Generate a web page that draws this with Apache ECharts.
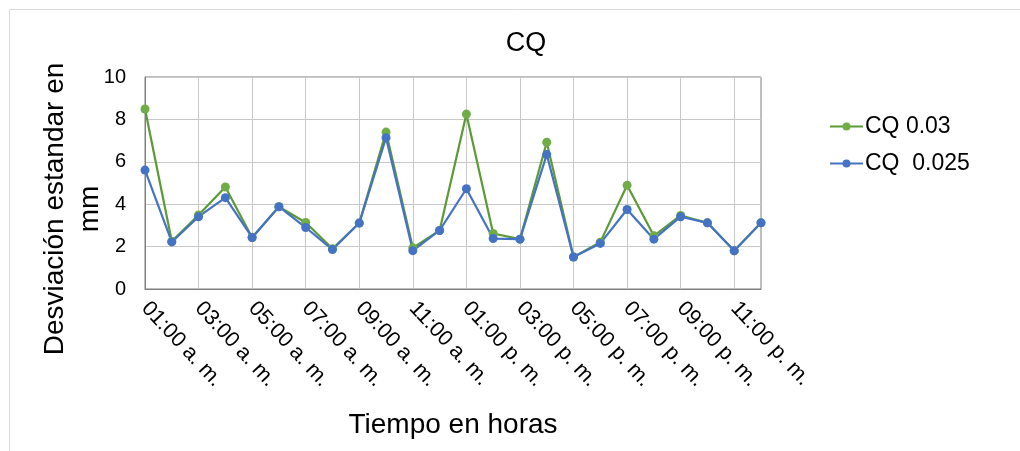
<!DOCTYPE html>
<html>
<head>
<meta charset="utf-8">
<script src="https://cdn.jsdelivr.net/npm/echarts@6/dist/echarts.min.js"></script>
<style>
  html, body { margin: 0; padding: 0; background: #fff; }
  #chart { width: 1020px; height: 451px; }
</style>
</head>
<body>
<div id="chart"></div>
<script>
// horas del dia (24 puntos, se rotula uno de cada dos)
const horas = [
  '01:00 a. m.', '02:00 a. m.', '03:00 a. m.', '04:00 a. m.', '05:00 a. m.', '06:00 a. m.',
  '07:00 a. m.', '08:00 a. m.', '09:00 a. m.', '10:00 a. m.', '11:00 a. m.', '12:00 p. m.',
  '01:00 p. m.', '02:00 p. m.', '03:00 p. m.', '04:00 p. m.', '05:00 p. m.', '06:00 p. m.',
  '07:00 p. m.', '08:00 p. m.', '09:00 p. m.', '10:00 p. m.', '11:00 p. m.', '12:00 a. m.'
]

// desviacion estandar (mm)
const cq003 = [8.49, 2.25, 3.49, 4.81, 2.43, 3.88, 3.14, 1.9, 3.11, 7.4, 1.94, 2.76,
               8.25, 2.62, 2.35, 6.92, 1.51, 2.21, 4.89, 2.51, 3.47, 3.12, 1.8, 3.12]
const cq0025 = [5.61, 2.22, 3.41, 4.31, 2.43, 3.88, 2.9, 1.86, 3.11, 7.14, 1.81, 2.76,
                4.73, 2.38, 2.35, 6.34, 1.51, 2.15, 3.75, 2.35, 3.41, 3.12, 1.8, 3.12]

const yTicks = { min: 0, max: 10, interval: 2 }

const font = 'Liberation Sans, Arial, sans-serif'

let myChart = echarts.init(document.getElementById('chart'))

let options = {
  animation: false,
  textStyle: { fontFamily: font },
  title: {
    text: 'CQ',
    left: 521,
    textAlign: 'center',
    top: 25,
    textStyle: { fontSize: 27, fontWeight: 'normal', color: '#000', fontFamily: font }
  },
  legend: {
    orient: 'vertical',
    left: 824,
    top: 110,
    itemWidth: 33,
    itemHeight: 10,
    itemGap: 14,
    textStyle: { fontSize: 23, color: '#000', fontFamily: font, padding: [0, 0, 0, -3] },
    data: ['CQ 0.03', 'CQ  0.025']
  },
  grid: {
    left: 145,
    right: 259,
    top: 77,
    bottom: 162,
    show: true,
    borderColor: '#7f7f7f',
    borderWidth: 1
  },
  xAxis: {
    type: 'category',
    data: horas,
    boundaryGap: false,
    name: 'Tiempo en horas',
    nameLocation: 'middle',
    nameGap: 122,
    nameTextStyle: { fontSize: 28, color: '#000', fontFamily: font },
    axisLine: { lineStyle: { color: '#7f7f7f' } },
    axisTick: { show: false },
    splitLine: { show: true, interval: 1, lineStyle: { color: '#c8c8c8' } },
    axisLabel: {
      interval: 1,
      rotate: -47,
      margin: 16,
      fontSize: 21.5,
      color: '#000',
      fontFamily: font
    }
  },
  yAxis: {
    type: 'value',
    min: yTicks.min,
    max: yTicks.max,
    interval: yTicks.interval,
    axisLine: { show: true, lineStyle: { color: '#7f7f7f' } },
    axisTick: { show: false },
    splitLine: { lineStyle: { color: '#c8c8c8' } },
    axisLabel: { fontSize: 20, color: '#000', margin: 19, fontFamily: font }
  },
  graphic: [
    // marco del grafico
    { type: 'line', shape: { x1: 9.5, y1: 9.5, x2: 1020, y2: 9.5 }, style: { stroke: '#d9d9d9', lineWidth: 1 } },
    { type: 'line', shape: { x1: 9.5, y1: 9.5, x2: 9.5, y2: 451 }, style: { stroke: '#d9d9d9', lineWidth: 1 } },
    // titulo eje vertical
    {
      type: 'text',
      x: 38,
      y: 209,
      rotation: Math.PI / 2,
      style: {
        text: 'Desviación estandar en\nmm',
        fontSize: 28,
        fontFamily: font,
        fill: '#000',
        align: 'center',
        verticalAlign: 'top',
        lineHeight: 35
      }
    }
  ],
  series: [
    {
      name: 'CQ 0.03',
      type: 'line',
      data: cq003,
      symbol: 'circle',
      symbolSize: 9,
      lineStyle: { color: '#5b9a35', width: 2.2 },
      itemStyle: { color: '#70ad47' }
    },
    {
      name: 'CQ  0.025',
      type: 'line',
      data: cq0025,
      symbol: 'circle',
      symbolSize: 9,
      lineStyle: { color: '#4472c4', width: 2.2 },
      itemStyle: { color: '#4472c4' }
    }
  ]
}

myChart.setOption(options)
</script>
</body>
</html>
